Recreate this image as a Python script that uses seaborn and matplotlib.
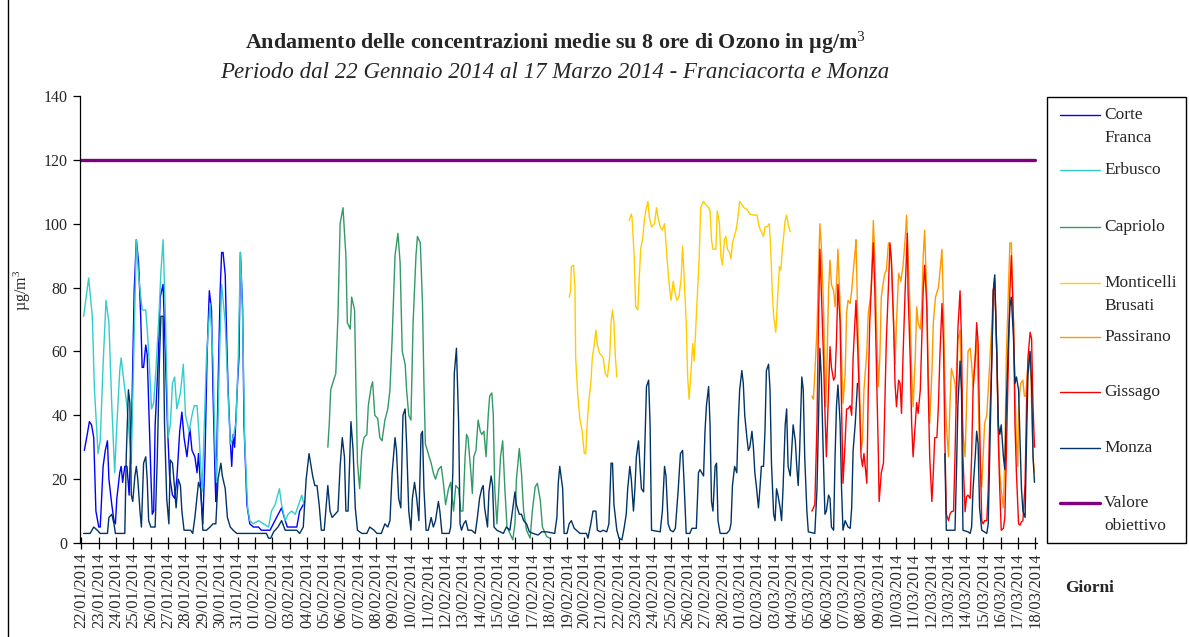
import numpy as np
import pandas as pd
import matplotlib
matplotlib.use("Agg")
import matplotlib.pyplot as plt
import matplotlib.dates as mdates
from matplotlib.lines import Line2D
from matplotlib.patches import Rectangle
import seaborn as sns

# Hourly 8-hour running means of ozone (ug/m3); each pair is (hours since 22/01/2014 00:00, value).
START = pd.Timestamp("2014-01-22 00:00")
GAP = float("nan")

corte_franca = [
    (4, 29), (8, 34), (11, 38), (14, 37), (17, 33), (20, 10), (24, 5), (26, 5), (30, 24), (33, 29),
    (36, 32), (38, 20), (42, 12), (45, 7), (47, 6), (49, 14), (53, 22), (55, 24), (57, 19), (60, 24),
    (63, 24), (66, 15), (70, 44), (73, 79), (76, 95), (79, 88), (82, 71), (84, 55), (86, 55), (89, 62),
    (91, 59), (93, 44), (96, 22), (98, 9), (100, 10), (102, 37), (106, 56), (109, 77), (113, 81), (115, 67),
    (119, 37), (122, 21), (126, 15), (129, 14), (132, 20), (136, 35), (139, 41), (142, 33), (146, 27), (150, 36),
    (153, 29), (157, 27), (160, 22), (162, 28), (165, 17), (168, 6), (171, 27), (174, 60), (177, 79), (180, 73),
    (182, 48), (185, 20), (186, 13), (189, 48), (192, 79), (194, 91), (196, 91), (199, 84), (201, 64), (203, 48),
    (206, 32), (208, 24), (210, 34), (212, 30), (216, 50), (218, 58), (220, 91), (223, 74), (225, 37), (229, 12),
    (233, 6), (238, 5), (245, 5), (249, 4), (256, 4), (261, 4), (270, 8), (277, 11), (282, 7), (285, 5),
    (291, 5), (298, 5), (302, 10), (307, 12), (309, 13),
]

erbusco = [
    (3, 71), (10, 83), (15, 71), (18, 48), (23, 28), (26, 32), (30, 56), (34, 76), (38, 69), (42, 43),
    (46, 22), (49, 37), (53, 54), (55, 58), (59, 50), (63, 43), (69, 25), (76, 95), (79, 84), (84, 73),
    (89, 73), (91, 67), (94, 56), (97, 42), (100, 44), (103, 54), (107, 70), (110, 85), (113, 95), (116, 73),
    (120, 33), (123, 37), (126, 50), (129, 52), (132, 42), (137, 47), (141, 56), (144, 40), (149, 35), (153, 40),
    (156, 43), (160, 43), (163, 33), (167, 16), (173, 58), (178, 75), (182, 58), (185, 29), (187, 19), (191, 58),
    (194, 81), (199, 69), (203, 46), (206, 31), (210, 33), (214, 38), (217, 58), (220, 91), (223, 71), (226, 32),
    (230, 11), (233, 7), (238, 6), (245, 7), (252, 6), (259, 5), (263, 10), (268, 12), (274, 17), (277, 12),
    (282, 7), (286, 9), (291, 10), (296, 9), (302, 13), (305, 15), (308, 12),
]

capriolo = [
    (341, 30), (343, 37.5), (345, 48), (349, 51), (352, 53), (355, 71), (358, 100), (362, 105), (366, 90), (368, 69),
    (372, 67), (374, 77), (378, 73), (380, 48), (382, 25), (385, 17), (388, 29), (391, 33), (395, 34), (397, 43),
    (401, 49), (403, 50.5), (406, 40), (410, 39), (413, 33), (416, 32), (420, 38.5), (424, 42), (427, 48), (430, 64),
    (434, 90), (438, 97), (441, 88), (444, 60), (448, 56), (450, 48), (453, 40), (456, 38.5), (459, 69), (463, 90),
    (465, 96), (469, 94), (472, 75), (474, 50), (476, 31), (480, 28), (484, 25), (487, 22), (490, 20), (494, 23),
    (498, 24), (501, 18.7), (504, 12), (508, 17), (511, 19), (515, 10), (518, 18), (522, 17), (525, 10), (528, 10),
    (531, 27), (533, 34), (535, 33), (539, 22), (541, 15.5), (543, 27), (546, 29), (549, 38.5), (552, 35), (554, 34),
    (557, 35), (560, 27), (563, 40), (565, 46), (568, 47), (570, 40), (572, 17), (575, 6), (577, 14), (580, 27),
    (583, 32), (586, 17), (589, 5), (593, 3), (597, 1), (600, 6), (602, 20), (606, 29.6), (609, 22), (612, 10),
    (616, 4), (621, 1.5), (624, 10), (628, 17.6), (631, 18.7), (635, 13.5), (638, 5), (644, 2), (648, 1.5),
]

monticelli_brusati = [
    (675, 77), (677, 79), (678, 86.6), (681, 87), (683, 80), (684, 58), (687, 46), (690, 38.5), (693, 35), (696, 28),
    (698, 28), (700, 37.5), (702, 44), (705, 50), (707, 58), (710, 62.5), (712, 66.7), (714, 62), (717, 59.4), (719, 59),
    (722, 58), (725, 53), (728, 52), (731, 58), (733, 69), (735, 73), (737, 69), (739, 58), (741, 52), (750, GAP),
    (758, 101), (761, 103), (762, 102), (765, 89.7), (767, 74), (770, 73), (772, 83), (774, 92), (777, 96), (779, 101),
    (781, 104), (784, 107), (786, 102), (789, 99), (793, 100), (796, 105), (798, 102), (801, 99), (804, 98), (807, 100),
    (809, 94), (811, 87.6), (813, 82), (816, 76), (819, 82), (821, 79), (824, 76), (827, 77), (830, 83), (832, 93),
    (834, 84), (837, 69), (839, 52), (841, 45), (844, 55), (846, 62.5), (848, 57), (851, 71), (855, 89.7), (857, 105),
    (861, 107), (864, 106), (868, 105), (870, 104), (872, 95), (874, 92), (878, 92), (880, 104), (883, 100), (885, 89.7),
    (887, 87), (890, 95), (892, 96), (894, 92), (897, 91), (899, 89), (901, 94), (904, 96.5), (906, 98), (908, 101),
    (911, 107), (914, 106), (917, 105), (921, 104.5), (925, 103), (930, 102.7), (935, 102.7), (938, 99), (941, 97.5), (944, 96),
    (946, 99), (949, 99), (952, 100), (954, 92), (956, 79), (958, 71), (961, 66), (964, 79), (966, 86.6), (968, 85.5),
    (970, 92), (974, 101), (976, 102.7), (978, 100), (981, 97.5),
]

passirano = [
    (1011, 46), (1013, 45), (1015, 53), (1018, 67), (1020, 84.5), (1022, 100), (1024, 93), (1027, 74), (1029, 53), (1030, 42.6),
    (1032, 58), (1034, 79), (1036, 88.6), (1038, 81), (1041, 79), (1043, 74), (1045, 81), (1047, 92), (1050, 74), (1052, 58),
    (1054, 43.7), (1057, 53), (1059, 72), (1061, 76), (1064, 75), (1066, 79), (1068, 84.5), (1071, 92), (1072, 95), (1074, 74),
    (1077, 48), (1079, 29), (1081, 32), (1083, 48), (1087, 60), (1089, 72), (1093, 79), (1096, 101), (1098, 89.7), (1101, 63.6),
    (1103, 49), (1105, 58), (1107, 77), (1110, 82), (1112, 84.5), (1114, 85.5), (1117, 94), (1119, 93), (1121, 87.6), (1124, 69),
    (1126, 56), (1128, 69), (1131, 84.5), (1134, 82), (1137, 86.6), (1140, 95), (1142, 102.7), (1144, 90), (1147, 71), (1149, 53),
    (1151, 42.7), (1154, 58), (1156, 74), (1158, 69), (1161, 67), (1163, 74), (1165, 89.7), (1167, 98), (1170, 77), (1172, 53),
    (1174, 37.5), (1177, 53), (1179, 69), (1182, 77), (1186, 80), (1188, 84.5), (1191, 92), (1193, 74), (1195, 50), (1197, 37.5),
    (1200, 27), (1202, 43), (1204, 54.7), (1207, 52), (1209, 50), (1211, 43.7), (1213, 63.6), (1216, 66.7), (1218, 48), (1220, 35),
    (1223, 27), (1225, 43), (1227, 60), (1230, 61), (1232, 56), (1234, 49), (1237, 58), (1239, 64), (1241, 48), (1243, 27),
    (1246, 17.6), (1248, 27), (1250, 37.5), (1253, 40), (1255, 48), (1257, 56), (1260, 69), (1262, 79), (1264, 83), (1267, 58),
    (1269, 37.5), (1271, 22), (1273, 16.6), (1276, 11), (1278, 27), (1280, 58), (1283, 79), (1285, 94), (1287, 94), (1290, 69),
    (1292, 48), (1294, 32), (1296, 24), (1297, 43), (1300, 50), (1303, 51), (1305, 46), (1307, 46), (1309, 53), (1312, 60),
    (1314, 52), (1317, 27), (1319, 22),
]

gissago = [
    (1011, 10), (1015, 12), (1018, 37.5), (1020, 69), (1022, 92), (1024, 79), (1027, 58), (1029, 41), (1031, 27), (1034, 48),
    (1036, 61.5), (1038, 55), (1041, 51), (1043, 52), (1045, 63.6), (1047, 81), (1050, 69), (1052, 42.7), (1054, 18.7), (1057, 32),
    (1059, 42), (1061, 42), (1064, 43), (1066, 40), (1068, 58), (1072, 76), (1074, 63.6), (1077, 42.7), (1079, 27), (1081, 24),
    (1083, 28), (1087, 18.7), (1089, 48), (1091, 69), (1094, 84.5), (1096, 94), (1098, 79), (1101, 48), (1103, 27), (1104, 13),
    (1107, 22), (1110, 25), (1112, 44), (1114, 63.6), (1117, 81), (1119, 94), (1121, 88.6), (1124, 69), (1126, 50), (1128, 42.7),
    (1131, 51), (1133, 50), (1135, 40.6), (1137, 58), (1140, 79), (1143, 97), (1144, 79), (1147, 58), (1149, 37.5), (1151, 27),
    (1154, 37.5), (1156, 44), (1158, 40.6), (1161, 48), (1163, 63.6), (1165, 79), (1167, 87), (1170, 74), (1172, 48), (1174, 27),
    (1177, 13), (1179, 22), (1181, 33), (1184, 33), (1186, 42.7), (1188, 58), (1191, 75), (1193, 63.6), (1195, 32), (1197, 9),
    (1200, 7), (1202, 9), (1204, 9.8), (1207, 10), (1209, 27), (1211, 48), (1213, 67), (1216, 79), (1218, 63.6), (1220, 27),
    (1223, 9.8), (1225, 14.5), (1227, 15), (1230, 14), (1232, 27), (1234, 48), (1237, 58), (1239, 69), (1241, 62.6), (1243, 37.5),
    (1246, 7), (1248, 6), (1250, 7), (1253, 7), (1255, 16.6), (1257, 37.5), (1260, 58), (1262, 79), (1264, 82), (1267, 58),
    (1269, 32), (1271, 16.6), (1273, 4), (1276, 4.6), (1278, 8), (1280, 27), (1283, 58), (1285, 79), (1287, 90), (1290, 69),
    (1292, 37.5), (1294, 22), (1297, 6), (1299, 5.6), (1301, 6.6), (1303, 7), (1306, 18.7), (1308, 43), (1310, 58), (1313, 66),
    (1315, 64), (1317, 43), (1319, 30),
]

monza = [
    (3, 3), (12, 3), (17, 5), (22, 4), (26, 3), (36, 3), (38, 8), (42, 9), (45, 6), (47, 3),
    (60, 3), (62, 27), (65, 48), (67, 44), (69, 15), (71, 13), (74, 21), (76, 24), (78, 20), (81, 10),
    (83, 5), (86, 25), (89, 27), (91, 20), (93, 7), (96, 5), (102, 5), (105, 27), (108, 58), (110, 71),
    (113, 71), (115, 37), (118, 14), (121, 6), (123, 26), (126, 25), (129, 17), (131, 11), (134, 20), (137, 18),
    (139, 10), (142, 4), (151, 4), (154, 3), (157, 8), (162, 19), (165, 17), (168, 4), (173, 4), (178, 5),
    (182, 6), (186, 6), (189, 20), (193, 25), (195, 21), (199, 17), (202, 8), (206, 5), (210, 4), (215, 3),
    (256, 3), (259, 1.5), (262, 1.5), (266, 3.5), (272, 5), (277, 7), (282, 4), (298, 4), (302, 3), (307, 5),
    (311, 20), (315, 28), (320, 21), (323, 18), (326, 18), (329, 12), (332, 4), (336, 4), (341, 18), (344, 10),
    (347, 8), (351, 9), (355, 10), (358, 24), (361, 33), (364, 27), (366, 10), (369, 10), (373, 38), (376, 29),
    (379, 11), (382, 4), (388, 3), (395, 3), (399, 5), (405, 4), (409, 3), (415, 3), (420, 6), (424, 5),
    (427, 7), (430, 22), (434, 33), (436, 29), (439, 14), (442, 11), (445, 40), (448, 42), (450, 31), (453, 10),
    (456, 4), (458, 14), (461, 19), (464, 14), (467, 7), (470, 34), (472, 35), (474, 17), (477, 4), (480, 4),
    (484, 8), (487, 5), (490, 7), (494, 13), (496, 10), (499, 3), (509, 3), (511, 5), (514, 22), (516, 53),
    (519, 61), (522, 38), (524, 6), (526, 4), (529, 6), (532, 7), (535, 4), (540, 4), (545, 3), (548, 8),
    (551, 14), (554, 17), (556, 18), (558, 11), (562, 5), (564, 16), (567, 21), (569, 18), (571, 5), (575, 4),
    (584, 3), (588, 5), (593, 4), (597, 11), (600, 16), (602, 12), (606, 9), (609, 9), (612, 7), (616, 6),
    (620, 3.5), (625, 3), (632, 2.5), (637, 3.5), (644, 3.5), (655, 3), (658, 8), (660, 19), (662, 24), (666, 17),
    (668, 3), (672, 3), (675, 6), (678, 7), (682, 4.6), (685, 4), (690, 3), (699, 3), (701, 1.5), (705, 6),
    (708, 10), (712, 10), (714, 4), (718, 3.5), (722, 4), (727, 3.5), (730, 6), (733, 25), (735, 25), (737, 12),
    (741, 4), (744, 1.5), (748, 1), (751, 4.6), (754, 9), (756, 17), (759, 24), (761, 20), (764, 10), (766, 17),
    (768, 27), (771, 32), (773, 24), (775, 17), (778, 16), (780, 33), (782, 49), (785, 51), (787, 37), (789, 4),
    (801, 3.5), (804, 10), (807, 24), (809, 21), (812, 6), (815, 4), (819, 3.5), (822, 4.6), (826, 17), (829, 28),
    (832, 29), (834, 19), (837, 3), (842, 3), (845, 4.6), (851, 4.6), (854, 22), (856, 23), (861, 21), (863, 35),
    (865, 43), (868, 49), (870, 37), (872, 13), (874, 10), (877, 24), (879, 25), (881, 7), (884, 3), (893, 3),
    (897, 4), (899, 6), (901, 18), (904, 24), (907, 22), (909, 37.5), (911, 48), (914, 54), (916, 50), (918, 40),
    (921, 33), (923, 29), (925, 30), (928, 35), (930, 30), (932, 22), (934, 18), (937, 11), (939, 17), (941, 24),
    (944, 24), (946, 35), (948, 54), (951, 56), (953, 48), (955, 25), (958, 9), (960, 7), (962, 17), (964, 15),
    (967, 11), (969, 7), (971, 17), (974, 37), (976, 42), (978, 24), (981, 21), (983, 29), (985, 37), (988, 32),
    (990, 24), (992, 18), (994, 29), (997, 52), (999, 48), (1001, 27), (1004, 10), (1006, 3.5), (1015, 3), (1018, 17),
    (1020, 37.5), (1022, 61), (1024, 52), (1027, 25), (1029, 9), (1031, 10), (1034, 15), (1036, 14), (1038, 5), (1041, 4),
    (1043, 27), (1045, 43), (1047, 49.5), (1050, 37.5), (1052, 17), (1054, 4), (1057, 7), (1059, 6), (1061, 5), (1064, 4.6),
    (1066, 11), (1068, 29), (1071, 37.5), (1073, 46), (1074, 50), (1130, GAP), (1195, 28), (1197, 4), (1209, 4), (1211, 22),
    (1213, 43), (1216, 57), (1218, 48), (1220, 4), (1227, 3.5), (1230, 3), (1232, 5), (1234, 17), (1237, 27), (1239, 35),
    (1241, 31), (1243, 11), (1246, 4), (1253, 3), (1255, 6), (1257, 27), (1260, 58), (1262, 79), (1264, 84), (1267, 58),
    (1269, 37), (1271, 34), (1273, 37), (1276, 27), (1278, 23), (1280, 43), (1283, 64), (1285, 74), (1287, 77), (1290, 64),
    (1292, 50), (1294, 52), (1297, 48), (1299, 32), (1301, 17), (1303, 10), (1306, 8), (1308, 32), (1310, 53), (1313, 60),
    (1315, 50), (1317, 27), (1319, 19),
]

valore_obiettivo = [(0, 120), (1320, 120)]

series_names = ["Corte\nFranca", "Erbusco", "Capriolo", "Monticelli\nBrusati", "Passirano",
                "Gissago", "Monza", "Valore\nobiettivo"]
series_data = [corte_franca, erbusco, capriolo, monticelli_brusati, passirano,
               gissago, monza, valore_obiettivo]
series_colors = ["#0000FF", "#33CCCC", "#339966", "#FFCC00", "#FF9900",
                 "#FF0000", "#003366", "#800080"]
series_widths = [1.0, 1.0, 1.0, 1.0, 1.0, 1.0, 1.0, 2.4]

y_ticks = [0, 20, 40, 60, 80, 100, 120, 140]

title = "Andamento delle concentrazioni medie su 8 ore di Ozono in \u00b5g/m$^{3}$"
subtitle = "Periodo dal 22 Gennaio 2014 al 17 Marzo 2014 - Franciacorta e Monza"
y_label = "\u00b5g/m$^{3}$"
x_label = "Giorni"

# ---------------------------------------------------------------------------
sns.set_theme(style="white")
plt.rcParams["font.family"] = ["Liberation Serif", "DejaVu Serif"]
plt.rcParams["mathtext.fontset"] = "custom"
plt.rcParams["mathtext.rm"] = "Liberation Serif"
plt.rcParams["mathtext.it"] = "Liberation Serif:italic"
plt.rcParams["mathtext.bf"] = "Liberation Serif:bold"

W, H = 1189, 637
fig = plt.figure(figsize=(W / 100, H / 100), dpi=100)
fig.patch.set_facecolor("white")

# outer chart frame (left edge visible, the rest runs off the canvas)
fig.add_artist(Rectangle((8 / W, -0.05), 1.2, 1.2, transform=fig.transFigure,
                         fill=False, edgecolor="black", linewidth=1.0))

ax = fig.add_axes([80 / W, (H - 543) / H, (1037 - 80) / W, (543 - 96) / H])
ax.set_facecolor("white")


def draw_series(points, color, lw):
    hrs = np.array([p[0] for p in points], dtype=float)
    val = np.array([p[1] for p in points], dtype=float)
    seg = np.cumsum(np.isnan(val))
    for s in np.unique(seg):
        m = (seg == s) & ~np.isnan(val)
        if m.sum() < 2:
            continue
        df = pd.DataFrame({"t": START + pd.to_timedelta(hrs[m], unit="h"), "v": val[m]})
        sns.lineplot(data=df, x="t", y="v", ax=ax, color=color, linewidth=lw,
                     estimator=None, sort=False, legend=False)


for pts, col, lw in zip(series_data, series_colors, series_widths):
    draw_series(pts, col, lw)

ax.set_xlim(START - pd.Timedelta(hours=2), START + pd.Timedelta(hours=1322.5))
ax.set_ylim(0, 140)
ax.set_yticks(y_ticks)
ax.xaxis.set_major_locator(mdates.DayLocator())
ax.xaxis.set_major_formatter(mdates.DateFormatter("%d/%m/%Y"))
ax.set_xlabel("")
ax.set_ylabel("")
ax.grid(False)

for side in ("top", "right"):
    ax.spines[side].set_visible(False)
for side in ("left", "bottom"):
    ax.spines[side].set_color("black")
    ax.spines[side].set_linewidth(0.9)

ax.tick_params(axis="y", direction="out", length=5, width=0.9, color="black",
               labelsize=11.5, pad=4, left=True)
ax.tick_params(axis="x", direction="inout", length=8, width=0.9, color="black",
               labelsize=12, pad=3, labelrotation=90, bottom=True)
for lab in ax.get_xticklabels():
    lab.set_verticalalignment("top")

# titles and axis captions
fig.text(555 / W, (H - 43) / H, title, ha="center", va="center",
         fontsize=15.8, fontweight="bold")
fig.text(555 / W, (H - 72) / H, subtitle, ha="center", va="center",
         fontsize=16.5, style="italic")
fig.text(22 / W, (H - 290) / H, y_label, ha="center", va="center",
         rotation=90, fontsize=11.5)
fig.text(1090 / W, (H - 588) / H, x_label, ha="center", va="center",
         fontsize=12.5, fontweight="bold")

# legend panel
lx0, lx1, ly0, ly1 = 1047, 1186, 97, 543
fig.add_artist(Rectangle((lx0 / W, (H - ly1) / H), (lx1 - lx0) / W, (ly1 - ly0) / H,
                         transform=fig.transFigure, fill=True, facecolor="white",
                         edgecolor="black", linewidth=1.0))
entry_rows = [115, 170, 227, 283, 337, 392, 448, 503]
for name, col, lw, yrow in zip(series_names, series_colors, series_widths, entry_rows):
    yf = (H - yrow) / H
    fig.add_artist(Line2D([1060 / W, 1100 / W], [yf, yf], transform=fig.transFigure,
                          color=col, linewidth=lw))
    for k, part in enumerate(name.split("\n")):
        fig.text(1104 / W, (H - yrow - 23 * k) / H, part, ha="left", va="center",
                 fontsize=12.5)

fig.savefig("out.png", dpi=100)
